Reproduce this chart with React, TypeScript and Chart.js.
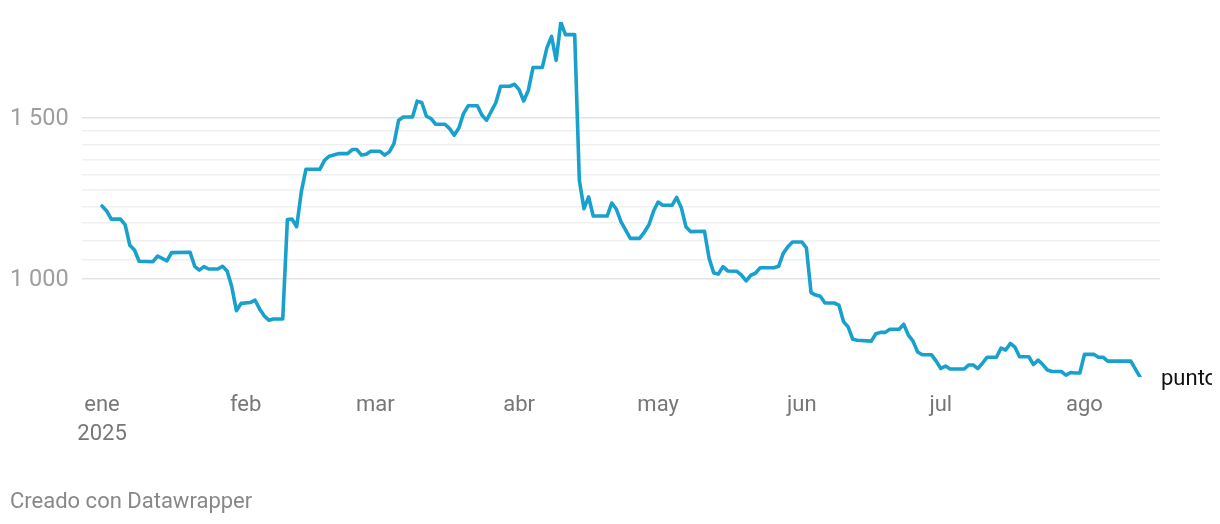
import { useEffect, useRef } from 'react';
import { Chart, registerables } from 'chart.js';

Chart.register(...registerables);

const dates = [
  '2025-01-01','2025-01-02','2025-01-03','2025-01-05','2025-01-06','2025-01-07','2025-01-08','2025-01-09',
  '2025-01-12','2025-01-13','2025-01-15','2025-01-16','2025-01-20','2025-01-21','2025-01-22','2025-01-23',
  '2025-01-24','2025-01-26','2025-01-27','2025-01-28','2025-01-29','2025-01-30','2025-01-31','2025-02-02',
  '2025-02-03','2025-02-04','2025-02-05','2025-02-06','2025-02-07','2025-02-09','2025-02-10','2025-02-11',
  '2025-02-12','2025-02-13','2025-02-14','2025-02-17','2025-02-18','2025-02-19','2025-02-20','2025-02-21',
  '2025-02-23','2025-02-24','2025-02-25','2025-02-26','2025-02-27','2025-02-28','2025-03-02','2025-03-03',
  '2025-03-04','2025-03-05','2025-03-06','2025-03-07','2025-03-09','2025-03-10','2025-03-11','2025-03-12',
  '2025-03-13','2025-03-14','2025-03-16','2025-03-17','2025-03-18','2025-03-19','2025-03-20','2025-03-21',
  '2025-03-23','2025-03-24','2025-03-25','2025-03-26','2025-03-27','2025-03-28','2025-03-30','2025-03-31',
  '2025-04-01','2025-04-02','2025-04-03','2025-04-04','2025-04-06','2025-04-07','2025-04-08','2025-04-09',
  '2025-04-10','2025-04-11','2025-04-13','2025-04-14','2025-04-15','2025-04-16','2025-04-17','2025-04-20',
  '2025-04-21','2025-04-22','2025-04-23','2025-04-24','2025-04-25','2025-04-27','2025-04-28','2025-04-29',
  '2025-04-30','2025-05-01','2025-05-02','2025-05-04','2025-05-05','2025-05-06','2025-05-07','2025-05-08',
  '2025-05-11','2025-05-12','2025-05-13','2025-05-14','2025-05-15','2025-05-16','2025-05-18','2025-05-19',
  '2025-05-20','2025-05-21','2025-05-22','2025-05-23','2025-05-26','2025-05-27','2025-05-28','2025-05-29',
  '2025-05-30','2025-06-01','2025-06-02','2025-06-03','2025-06-04','2025-06-05','2025-06-06','2025-06-08',
  '2025-06-09','2025-06-10','2025-06-11','2025-06-12','2025-06-13','2025-06-16','2025-06-17','2025-06-18',
  '2025-06-19','2025-06-20','2025-06-22','2025-06-23','2025-06-24','2025-06-25','2025-06-26','2025-06-27',
  '2025-06-29','2025-06-30','2025-07-01','2025-07-02','2025-07-03','2025-07-06','2025-07-07','2025-07-08',
  '2025-07-09','2025-07-10','2025-07-11','2025-07-13','2025-07-14','2025-07-15','2025-07-16','2025-07-17',
  '2025-07-18','2025-07-20','2025-07-21','2025-07-22','2025-07-23','2025-07-24','2025-07-25','2025-07-27',
  '2025-07-28','2025-07-29','2025-07-30','2025-07-31','2025-08-01','2025-08-03','2025-08-04','2025-08-05',
  '2025-08-06','2025-08-11','2025-08-13',
];

const values = [
  1201, 1186, 1162, 1162, 1145, 1088, 1075, 1045,
  1044, 1059, 1046, 1068, 1069, 1032, 1022, 1031,
  1025, 1025, 1032, 1020, 980, 923, 940, 942,
  948, 927, 911, 901, 904, 904, 1161, 1162,
  1140, 1244, 1317, 1317, 1347, 1361, 1365, 1370,
  1370, 1384, 1384, 1365, 1368, 1378, 1378, 1365,
  1376, 1405, 1490, 1502, 1502, 1563, 1558, 1505,
  1496, 1475, 1475, 1459, 1435, 1461, 1515, 1545,
  1545, 1509, 1490, 1524, 1558, 1623, 1623, 1631,
  1609, 1564, 1607, 1701, 1701, 1787, 1840, 1732,
  1907, 1848, 1848, 1281, 1193, 1229, 1171, 1171,
  1210, 1191, 1154, 1130, 1107, 1107, 1124, 1145,
  1185, 1213, 1203, 1203, 1227, 1196, 1140, 1126,
  1127, 1053, 1015, 1012, 1031, 1020, 1019, 1009,
  995, 1009, 1014, 1028, 1028, 1032, 1066, 1084,
  1097, 1097, 1081, 966, 960, 957, 941, 941,
  936, 898, 886, 859, 857, 855, 871, 874,
  874, 881, 881, 892, 868, 855, 832, 826,
  826, 813, 798, 803, 797, 797, 805, 805,
  798, 809, 821, 821, 840, 836, 850, 842,
  822, 822, 806, 815, 806, 795, 792, 792,
  785, 790, 789, 789, 827, 827, 821, 821,
  813, 813, 781,
];

const monthTickDates = ['2025-01-01','2025-02-01','2025-03-01','2025-04-01','2025-05-01','2025-06-01','2025-07-01','2025-08-01'];
const monthLabels = ['ene','feb','mar','abr','may','jun','jul','ago'];
const yearLabel = '2025';
const gridValues = [1000, 1050, 1100, 1150, 1200, 1250, 1300, 1350, 1400, 1450, 1500];
const labeledValues = [1000, 1500];
const seriesLabel = 'puntos';
const footerText = 'Creado con Datawrapper';

const dayNum = (s: string) => {
  const [y, m, d] = s.split('-').map(Number);
  return (Date.UTC(y, m - 1, d) - Date.UTC(2025, 0, 1)) / 86400000;
};

const fmt = (v: number) => {
  const s = String(Math.round(v));
  return s.length > 3 ? s.slice(0, s.length - 3) + ' ' + s.slice(-3) : s;
};

export default function App() {
  const ref = useRef<HTMLCanvasElement | null>(null);
  useEffect(() => {
    if (!ref.current) return;
    const tickDays = monthTickDates.map(dayNum);
    const extraText = {
      id: 'extraText',
      afterDraw(chart: any) {
        const { ctx, chartArea } = chart;
        const meta = chart.getDatasetMeta(0);
        const last = meta.data[meta.data.length - 1];
        ctx.save();
        ctx.font = '22px Roboto';
        ctx.fillStyle = '#111111';
        ctx.textAlign = 'left';
        ctx.textBaseline = 'middle';
        ctx.fillText(seriesLabel, chartArea.right + 1, last.y + 2);
        ctx.fillStyle = '#888888';
        ctx.textBaseline = 'alphabetic';
        ctx.fillText(footerText, 2, 500);
        ctx.restore();
      },
    };
    const chart = new Chart(ref.current, {
      type: 'line',
      data: {
        datasets: [
          {
            data: dates.map((d, i) => ({ x: dayNum(d), y: values[i] })),
            borderColor: '#18a1cd',
            borderWidth: 3.6,
            pointRadius: 0,
            tension: 0,
            borderJoinStyle: 'round',
            borderCapStyle: 'round',
          },
        ],
      },
      options: {
        animation: false,
        responsive: false,
        layout: { padding: { left: 2, top: 13.8, right: 52, bottom: 0 } },
        plugins: { legend: { display: false }, tooltip: { enabled: false } },
        scales: {
          x: {
            type: 'linear',
            min: -4.32,
            max: 228.3,
            grid: { display: false, drawTicks: false },
            border: { display: false },
            afterBuildTicks: (scale: any) => {
              scale.ticks = tickDays.map((v) => ({ value: v }));
            },
            afterFit: (scale: any) => {
              scale.height = 146.9;
            },
            ticks: {
              autoSkip: false,
              maxRotation: 0,
              padding: 14,
              color: '#777777',
              font: { family: 'Roboto', size: 22, lineHeight: 1.32 },
              callback: (v: any) => {
                const i = tickDays.indexOf(Number(v));
                if (i < 0) return '';
                return i === 0 ? [monthLabels[i], yearLabel] : monthLabels[i];
              },
            },
          },
          y: {
            type: 'logarithmic',
            min: 781,
            max: 1907,
            border: { display: false },
            grid: {
              drawTicks: false,
              lineWidth: 1.5,
              color: (c: any) => (labeledValues.includes(c.tick?.value) ? '#e3e3e3' : '#f0f0f0'),
            },
            afterBuildTicks: (scale: any) => {
              scale.ticks = gridValues.map((v) => ({ value: v }));
            },
            afterFit: (scale: any) => {
              scale.width = 72;
            },
            ticks: {
              autoSkip: false,
              crossAlign: 'far',
              padding: 0,
              labelOffset: 1.5,
              color: '#9e9e9e',
              font: { family: 'Roboto', size: 23.5 },
              callback: (v: any) => (labeledValues.includes(Number(v)) ? fmt(Number(v)) : ''),
            },
          },
        },
      },
      plugins: [extraText],
    } as any);
    return () => chart.destroy();
  }, []);
  return <canvas ref={ref} width={1204} height={516} style={{ display: 'block' }} />;
}
